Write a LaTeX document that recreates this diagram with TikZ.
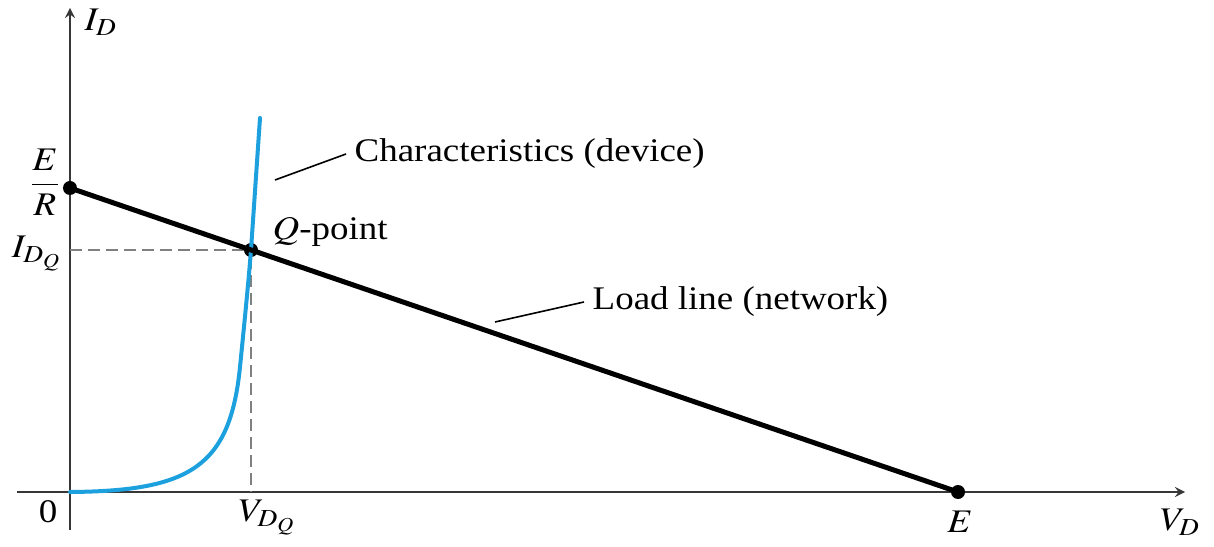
\documentclass[tikz,border=0pt]{standalone}
\usepackage{mathptmx}
\usepackage{fontspec}
\setmainfont{Liberation Serif}
\definecolor{curveblue}{RGB}{28,160,222}
\definecolor{axisgray}{RGB}{55,55,55}
\tikzset{
  lbl/.style={font=\fontsize{16.5}{19}\selectfont, xscale=1.12, inner sep=1pt},
  dot/.style={circle, fill=black, inner sep=0pt, minimum size=7pt},
  guide/.style={dashed, dash pattern=on 6pt off 3pt, gray, line width=0.6pt}
}
\begin{document}
\begin{tikzpicture}[x=50pt,y=50pt,>=stealth]
    \useasboundingbox (-0.70,-0.54) rectangle (11.44,4.92);
    % axes
    \draw[axisgray, line width=1.2pt, ->] (-0.53,0) -- (11.15,0);
    \draw[axisgray, line width=1.2pt, ->] (0,-0.38) -- (0,4.84);
    \coordinate (O) at (0,0);
    % points
    \node[dot] (ER) at (0,3.04) {};
    \node[dot] (Q) at (1.81,2.42) {};
    \node[dot] (E) at (8.88,0) {};
    % guides to the Q-point
    \draw[guide] (ER |- Q) -- (Q);
    \draw[guide] (Q) -- (Q |- O);
    % device characteristic
    \draw[curveblue, line width=2pt, line cap=round]
        (O) .. controls (1.2,0.01) and (1.6,0.25) .. (1.70,1.25)
            .. controls (1.74,1.65) and (1.785,2.1) .. (Q.center) -- (1.90,3.74);
    % load line
    \draw[line width=2.5pt] (ER.center) -- (E.center);
    % labels
    \node[lbl, anchor=west] (ID) at (0.12,4.70) {$I_D$};
    \node[lbl] (ERlbl) at (-0.25,3.10) {$\displaystyle\frac{E}{R}$};
    \node[lbl, anchor=east] (IDQ) at (-0.06,2.38) {$I_{D_Q}$};
    \node[lbl] (zero) at (-0.22,-0.20) {0};
    \node[lbl, anchor=north west] (VDQ) at (1.66,-0.06) {$V_{D_Q}$};
    \node[lbl] (Elbl) at (8.90,-0.30) {$E$};
    \node[lbl] (VD) at (11.10,-0.30) {$V_D$};
    \node[lbl, anchor=west] (Qlbl) at (2.00,2.60) {$Q$-point};
    \node[lbl, anchor=west] (char) at (2.82,3.38) {Characteristics (device)};
    \node[lbl, anchor=west] (load) at (5.20,1.90) {Load line (network)};
    % leaders
    \coordinate (charend) at (2.05,3.12);
    \coordinate (loadend) at (4.25,1.70);
    \draw[line width=0.8pt] (charend) -- ([xshift=-3pt]char.west);
    \draw[line width=0.8pt] (loadend) -- ([xshift=-3pt]load.west);
\end{tikzpicture}
\end{document}
